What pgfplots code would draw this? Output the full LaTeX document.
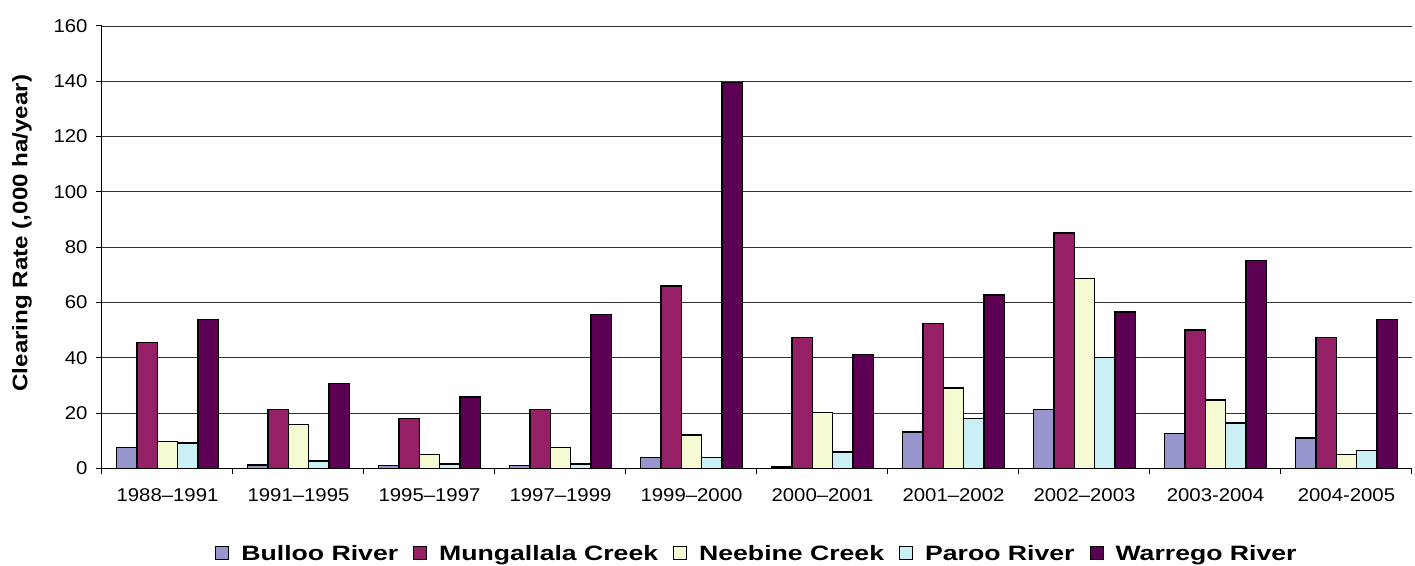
\documentclass[border=0pt]{standalone}
\usepackage{pgfplots}
\pgfplotsset{compat=1.18}
\usepackage{fontspec}
\setmainfont{Liberation Sans}
\newfontfamily\tickfont[FakeStretch=1.1]{Liberation Sans}
\newfontfamily\labfont[FakeStretch=1.15]{Liberation Sans}
\newfontfamily\legfont[FakeStretch=1.28]{Liberation Sans}
\definecolor{cBulloo}{RGB}{150,150,205}
\definecolor{cMung}{RGB}{150,32,102}
\definecolor{cNeeb}{RGB}{245,250,210}
\definecolor{cParoo}{RGB}{202,240,246}
\definecolor{cWarr}{RGB}{92,0,84}
\begin{document}
\begin{tikzpicture}
\begin{axis}[
  scale only axis,
  width=1310pt, height=442.5pt,
  xmin=-0.5, xmax=9.5, ymin=0, ymax=160,
  ybar=0pt, bar width=20.4pt,
  axis x line=bottom, axis y line=left,
  axis line style={-, black, line width=1pt},
  xtick={0,...,9},
  xticklabels={1988–1991,1991–1995,1995–1997,1997–1999,1999–2000,2000–2001,2001–2002,2002–2003,2003-2004,2004-2005},
  major x tick style={draw=none},
  minor xtick={-0.5,0.5,...,9.5},
  minor tick length=6pt, major tick length=6pt,
  tick align=outside,
  tick style={black, line width=1pt},
  ytick={0,20,...,160},
  ymajorgrids=true,
  grid style={black!80, line width=0.9pt},
  /pgf/number format/assume math mode=true,
  tick label style={font=\tickfont\fontsize{18.5}{21}\selectfont},
  yticklabel style={xshift=-5pt},
  xticklabel style={yshift=-11pt},
  ylabel={Clearing Rate (,000 ha/year)},
  ylabel style={font=\labfont\bfseries\fontsize{21}{24}\selectfont, at={(axis description cs:-0.0611,0.532)}, anchor=center},
  legend columns=-1,
  legend style={draw=none, fill=none, at={(axis description cs:0.5,-0.192)}, anchor=center,
    font=\legfont\bfseries\fontsize{20.8}{24}\selectfont,
    /tikz/every odd column/.append style={column sep=10pt},
    /tikz/every even column/.append style={column sep=13pt}},
  legend image code/.code={\draw[#1, line width=1pt] (0pt,-6.5pt) rectangle (13pt,6.5pt);},
  every axis plot/.append style={draw=black, line width=1.3pt},
]
\addplot[fill=cBulloo] coordinates {(0,7.7) (1,1.3) (2,1.1) (3,1.1) (4,3.9) (5,0.5) (6,13.2) (7,21.4) (8,12.6) (9,11.0)};
\addplot[fill=cMung] coordinates {(0,45.6) (1,21.4) (2,18.1) (3,21.4) (4,66.0) (5,47.3) (6,52.4) (7,85.1) (8,50.1) (9,47.3)};
\addplot[fill=cNeeb] coordinates {(0,9.8) (1,16.0) (2,5.1) (3,7.7) (4,12.1) (5,20.3) (6,29.1) (7,68.8) (8,24.8) (9,5.0)};
\addplot[fill=cParoo] coordinates {(0,9.2) (1,2.7) (2,1.6) (3,1.6) (4,3.9) (5,6.0) (6,18.1) (7,40.1) (8,16.4) (9,6.6)};
\addplot[fill=cWarr] coordinates {(0,53.9) (1,30.7) (2,25.8) (3,55.6) (4,139.6) (5,41.1) (6,62.7) (7,56.6) (8,75.3) (9,53.9)};
\legend{Bulloo River, Mungallala Creek, Neebine Creek, Paroo River, Warrego River}
\end{axis}
\path (current axis.south west) ++(-102pt,-96.5pt) rectangle ++(1415pt,565pt);
\end{tikzpicture}
\end{document}
